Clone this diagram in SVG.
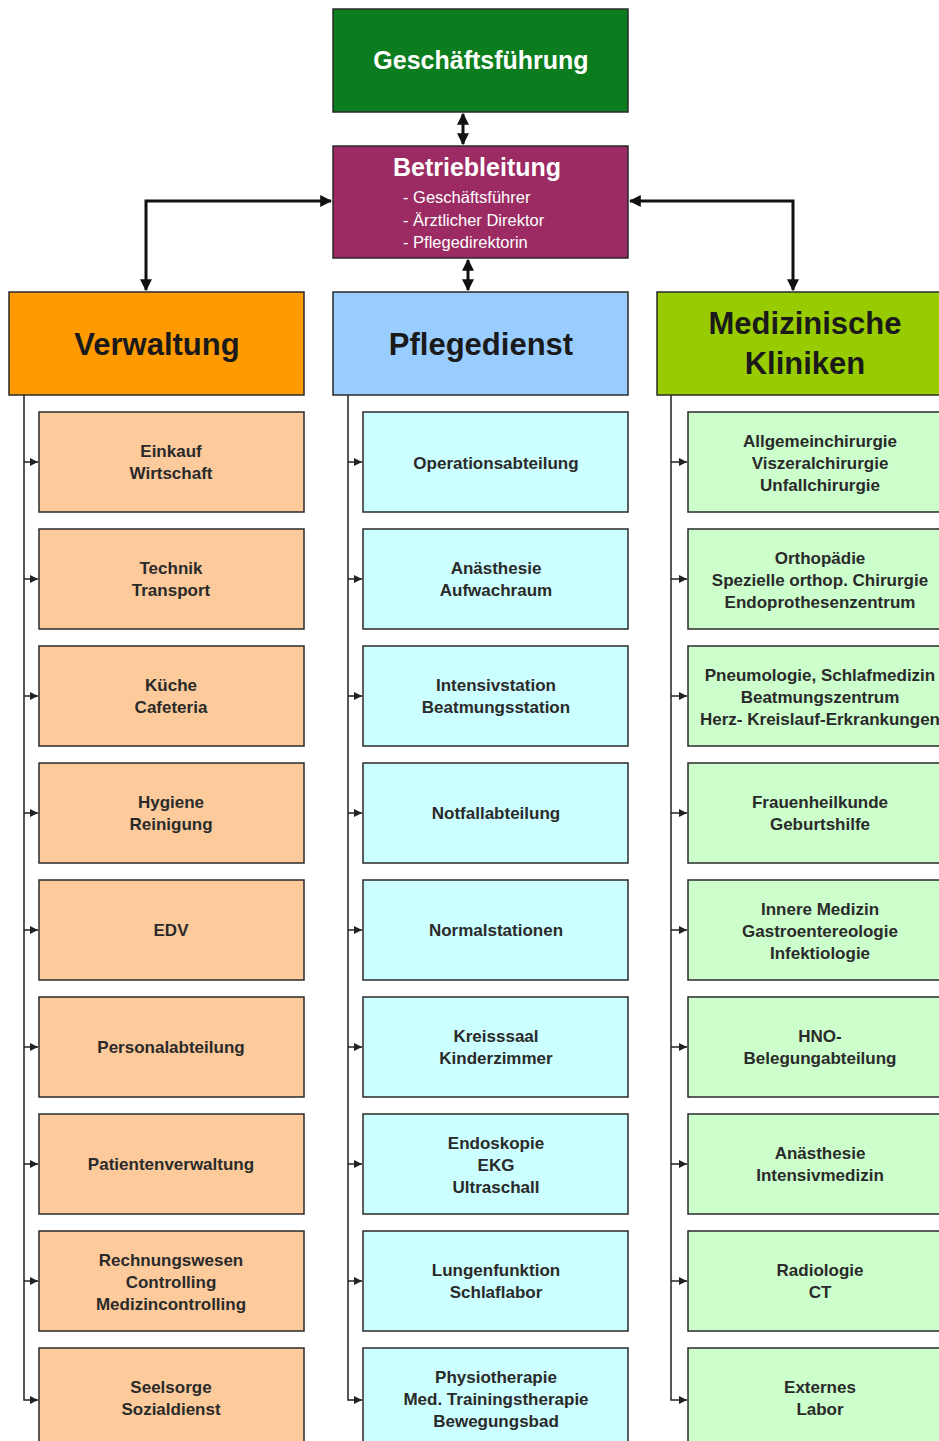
<svg xmlns="http://www.w3.org/2000/svg" width="939" height="1441" viewBox="0 0 939 1441">
<style>
.box{stroke:#2a2a2a;stroke-width:1.5}
.gf{fill:#0b7d1e}
.bl{fill:#9c2b63}
.vh{fill:#ff9a00}
.ph{fill:#99ccff}
.mh{fill:#99cc00}
.vs{fill:#fdca9b}
.ps{fill:#ccffff}
.ms{fill:#ccffcc}
text{font-family:"Liberation Sans",Arial,sans-serif;text-anchor:middle}
.wt{fill:#ffffff;font-weight:bold;font-size:25px}
.ws{fill:#ffffff;font-size:16.5px;text-anchor:start}
.ht{fill:#1a1a1a;font-weight:bold;font-size:31px}
.st{fill:#2a2a2a;font-weight:bold;font-size:17px}
.big{fill:none;stroke:#111;stroke-width:3}
.sm{fill:none;stroke:#222;stroke-width:1.5}
</style>
<defs>
<marker id="ab" viewBox="0 0 10 10" refX="9" refY="5" markerWidth="4" markerHeight="4" orient="auto-start-reverse" markerUnits="strokeWidth">
<path d="M0,0 L10,5 L0,10 z" fill="#111"/>
</marker>
<marker id="as" viewBox="0 0 10 10" refX="10" refY="5" markerWidth="9" markerHeight="8" orient="auto" markerUnits="userSpaceOnUse">
<path d="M0,0 L10,5 L0,10 z" fill="#222"/>
</marker>
</defs>

<g id="connectors">
<path class="big" d="M463,114 L463,144" marker-start="url(#ab)" marker-end="url(#ab)"/>
<path class="big" d="M468,260 L468,290" marker-start="url(#ab)" marker-end="url(#ab)"/>
<path class="big" d="M146,290 L146,201 L331,201" marker-start="url(#ab)" marker-end="url(#ab)"/>
<path class="big" d="M793,290 L793,201 L630,201" marker-start="url(#ab)" marker-end="url(#ab)"/>
<path class="sm" d="M24,395 L24,1400 L38,1400" marker-end="url(#as)"/>
<path class="sm" d="M348,395 L348,1400 L362,1400" marker-end="url(#as)"/>
<path class="sm" d="M671,395 L671,1400 L687,1400" marker-end="url(#as)"/>
<path class="sm" d="M24,462h14" marker-end="url(#as)"/>
<path class="sm" d="M24,579h14" marker-end="url(#as)"/>
<path class="sm" d="M24,696h14" marker-end="url(#as)"/>
<path class="sm" d="M24,813h14" marker-end="url(#as)"/>
<path class="sm" d="M24,930h14" marker-end="url(#as)"/>
<path class="sm" d="M24,1047h14" marker-end="url(#as)"/>
<path class="sm" d="M24,1164h14" marker-end="url(#as)"/>
<path class="sm" d="M24,1281h14" marker-end="url(#as)"/>
<path class="sm" d="M348,462h14" marker-end="url(#as)"/>
<path class="sm" d="M348,579h14" marker-end="url(#as)"/>
<path class="sm" d="M348,696h14" marker-end="url(#as)"/>
<path class="sm" d="M348,813h14" marker-end="url(#as)"/>
<path class="sm" d="M348,930h14" marker-end="url(#as)"/>
<path class="sm" d="M348,1047h14" marker-end="url(#as)"/>
<path class="sm" d="M348,1164h14" marker-end="url(#as)"/>
<path class="sm" d="M348,1281h14" marker-end="url(#as)"/>
<path class="sm" d="M671,462h16" marker-end="url(#as)"/>
<path class="sm" d="M671,579h16" marker-end="url(#as)"/>
<path class="sm" d="M671,696h16" marker-end="url(#as)"/>
<path class="sm" d="M671,813h16" marker-end="url(#as)"/>
<path class="sm" d="M671,930h16" marker-end="url(#as)"/>
<path class="sm" d="M671,1047h16" marker-end="url(#as)"/>
<path class="sm" d="M671,1164h16" marker-end="url(#as)"/>
<path class="sm" d="M671,1281h16" marker-end="url(#as)"/>
</g>

<g id="geschaeftsfuehrung"><rect class="box gf" x="333" y="9" width="295" height="103"/><text class="wt" x="481" y="69">Geschäftsführung</text></g>
<g id="betriebleitung"><rect class="box bl" x="333" y="146" width="295" height="112"/><text class="wt" x="477" y="176">Betriebleitung</text>
<text class="ws" x="403" y="203">- Geschäftsführer</text><text class="ws" x="403" y="226">- Ärztlicher Direktor</text><text class="ws" x="403" y="248">- Pflegedirektorin</text></g>

<g id="verwaltung"><rect class="box vh" x="9" y="292" width="295" height="103"/><text class="ht" x="157" y="355">Verwaltung</text></g>
<g id="pflegedienst"><rect class="box ph" x="333" y="292" width="295" height="103"/><text class="ht" x="481" y="355">Pflegedienst</text></g>
<g id="medizinische-kliniken"><rect class="box mh" x="657" y="292" width="296" height="103"/><text class="ht" x="805" y="334">Medizinische</text><text class="ht" x="805" y="374">Kliniken</text></g>

<g id="v1"><rect class="box vs" x="39" y="412" width="265" height="100"/><text class="st" x="171" y="457">Einkauf</text><text class="st" x="171" y="479">Wirtschaft</text></g>
<g id="v2"><rect class="box vs" x="39" y="529" width="265" height="100"/><text class="st" x="171" y="574">Technik</text><text class="st" x="171" y="596">Transport</text></g>
<g id="v3"><rect class="box vs" x="39" y="646" width="265" height="100"/><text class="st" x="171" y="691">Küche</text><text class="st" x="171" y="713">Cafeteria</text></g>
<g id="v4"><rect class="box vs" x="39" y="763" width="265" height="100"/><text class="st" x="171" y="808">Hygiene</text><text class="st" x="171" y="830">Reinigung</text></g>
<g id="v5"><rect class="box vs" x="39" y="880" width="265" height="100"/><text class="st" x="171" y="936">EDV</text></g>
<g id="v6"><rect class="box vs" x="39" y="997" width="265" height="100"/><text class="st" x="171" y="1053">Personalabteilung</text></g>
<g id="v7"><rect class="box vs" x="39" y="1114" width="265" height="100"/><text class="st" x="171" y="1170">Patientenverwaltung</text></g>
<g id="v8"><rect class="box vs" x="39" y="1231" width="265" height="100"/><text class="st" x="171" y="1266">Rechnungswesen</text><text class="st" x="171" y="1288">Controlling</text><text class="st" x="171" y="1310">Medizincontrolling</text></g>
<g id="v9"><rect class="box vs" x="39" y="1348" width="265" height="100"/><text class="st" x="171" y="1393">Seelsorge</text><text class="st" x="171" y="1415">Sozialdienst</text></g>

<g id="p1"><rect class="box ps" x="363" y="412" width="265" height="100"/><text class="st" x="496" y="469">Operationsabteilung</text></g>
<g id="p2"><rect class="box ps" x="363" y="529" width="265" height="100"/><text class="st" x="496" y="574">Anästhesie</text><text class="st" x="496" y="596">Aufwachraum</text></g>
<g id="p3"><rect class="box ps" x="363" y="646" width="265" height="100"/><text class="st" x="496" y="691">Intensivstation</text><text class="st" x="496" y="713">Beatmungsstation</text></g>
<g id="p4"><rect class="box ps" x="363" y="763" width="265" height="100"/><text class="st" x="496" y="819">Notfallabteilung</text></g>
<g id="p5"><rect class="box ps" x="363" y="880" width="265" height="100"/><text class="st" x="496" y="936">Normalstationen</text></g>
<g id="p6"><rect class="box ps" x="363" y="997" width="265" height="100"/><text class="st" x="496" y="1042">Kreisssaal</text><text class="st" x="496" y="1064">Kinderzimmer</text></g>
<g id="p7"><rect class="box ps" x="363" y="1114" width="265" height="100"/><text class="st" x="496" y="1149">Endoskopie</text><text class="st" x="496" y="1171">EKG</text><text class="st" x="496" y="1193">Ultraschall</text></g>
<g id="p8"><rect class="box ps" x="363" y="1231" width="265" height="100"/><text class="st" x="496" y="1276">Lungenfunktion</text><text class="st" x="496" y="1298">Schlaflabor</text></g>
<g id="p9"><rect class="box ps" x="363" y="1348" width="265" height="100"/><text class="st" x="496" y="1383">Physiotherapie</text><text class="st" x="496" y="1405">Med. Trainingstherapie</text><text class="st" x="496" y="1427">Bewegungsbad</text></g>

<g id="m1"><rect class="box ms" x="688" y="412" width="265" height="100"/><text class="st" x="820" y="447">Allgemeinchirurgie</text><text class="st" x="820" y="469">Viszeralchirurgie</text><text class="st" x="820" y="491">Unfallchirurgie</text></g>
<g id="m2"><rect class="box ms" x="688" y="529" width="265" height="100"/><text class="st" x="820" y="564">Orthopädie</text><text class="st" x="820" y="586">Spezielle orthop. Chirurgie</text><text class="st" x="820" y="608">Endoprothesenzentrum</text></g>
<g id="m3"><rect class="box ms" x="688" y="646" width="265" height="100"/><text class="st" x="820" y="681">Pneumologie, Schlafmedizin</text><text class="st" x="820" y="703">Beatmungszentrum</text><text class="st" x="820" y="725">Herz- Kreislauf-Erkrankungen</text></g>
<g id="m4"><rect class="box ms" x="688" y="763" width="265" height="100"/><text class="st" x="820" y="808">Frauenheilkunde</text><text class="st" x="820" y="830">Geburtshilfe</text></g>
<g id="m5"><rect class="box ms" x="688" y="880" width="265" height="100"/><text class="st" x="820" y="915">Innere Medizin</text><text class="st" x="820" y="937">Gastroentereologie</text><text class="st" x="820" y="959">Infektiologie</text></g>
<g id="m6"><rect class="box ms" x="688" y="997" width="265" height="100"/><text class="st" x="820" y="1042">HNO-</text><text class="st" x="820" y="1064">Belegungabteilung</text></g>
<g id="m7"><rect class="box ms" x="688" y="1114" width="265" height="100"/><text class="st" x="820" y="1159">Anästhesie</text><text class="st" x="820" y="1181">Intensivmedizin</text></g>
<g id="m8"><rect class="box ms" x="688" y="1231" width="265" height="100"/><text class="st" x="820" y="1276">Radiologie</text><text class="st" x="820" y="1298">CT</text></g>
<g id="m9"><rect class="box ms" x="688" y="1348" width="265" height="100"/><text class="st" x="820" y="1393">Externes</text><text class="st" x="820" y="1415">Labor</text></g>
</svg>
